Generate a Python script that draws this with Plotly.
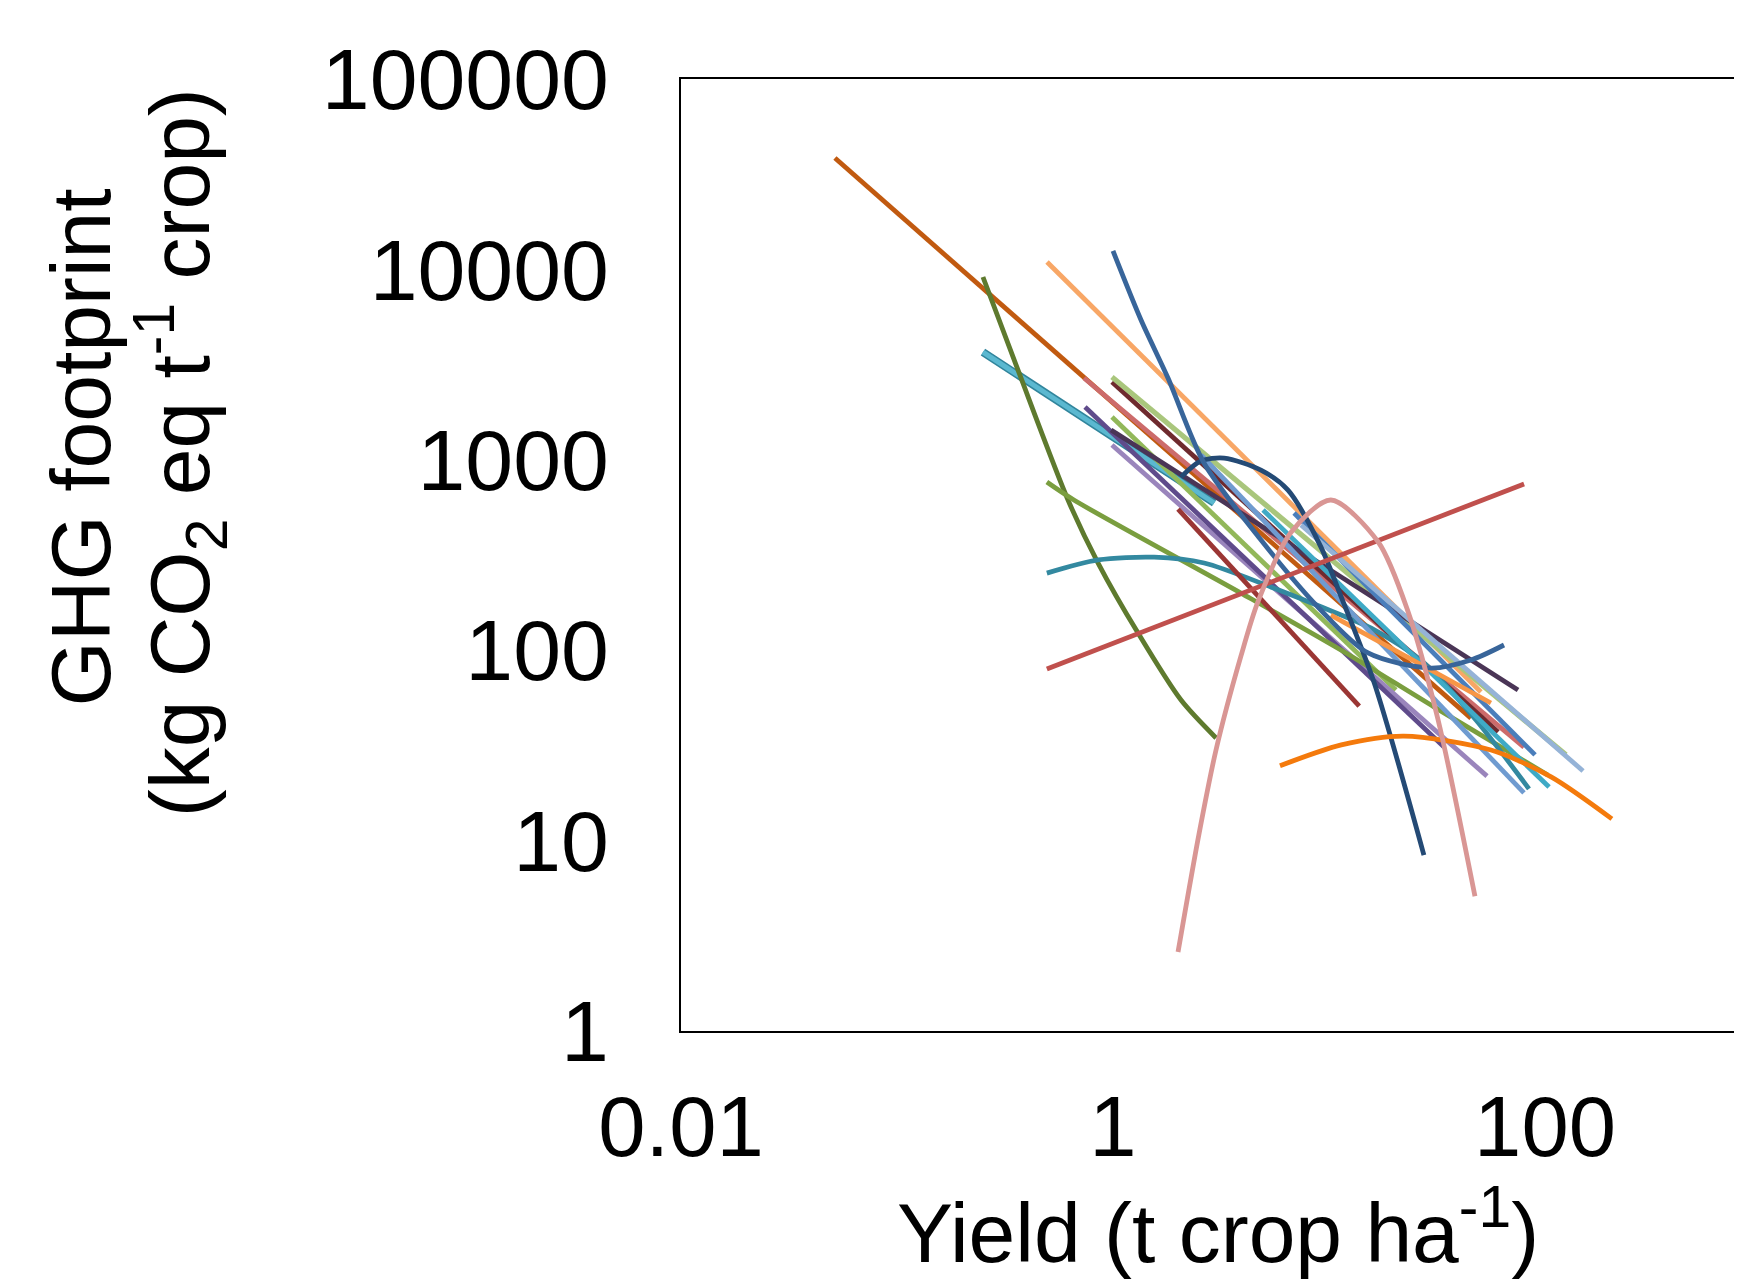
import plotly.graph_objects as go

# ---- data (yield t/ha, GHG footprint kg CO2eq/t) ----
dark_orange_x = [0.0516, 45.4]
dark_orange_y = [38450, 44]

olive_x = [0.25, 0.363, 0.619, 0.853, 1.306, 2.065, 3.0]
olive_y = [9120, 2965, 615, 287, 123, 54.7, 34.6]

lightblue_x = [0.25, 2.94]
lightblue_y = [3680, 593]

peach_x = [0.495, 50.5]
peach_y = [10940, 60.3]

blue_u_x = [1.0, 1.348, 1.797, 2.638, 4.845, 8.89, 15.16, 29.7, 45.4, 64.6]
blue_u_y = [12500, 5423, 2689, 962, 379, 168.6, 96.7, 80.6, 88.8, 106.5]

navy_x = [2.065, 2.55, 3.27, 4.84, 6.46, 9.18, 11.4, 16.2, 27.5]
navy_y = [813, 986, 1021, 883, 693, 348, 190, 67.3, 8.4]

red_x = [0.494, 80.0]
red_y = [79.6, 747]

pink_x = [2.0, 2.5, 3.0, 3.91, 4.69, 6.66, 10.2, 16.9, 23.2, 32.0, 47.4]
pink_y = [2.6, 10.8, 30, 93, 180, 415, 615, 370, 160, 43, 5.1]

orange_arch_x = [5.93, 11.4, 22.2, 56.2, 106.7, 204]
orange_arch_y = [24.7, 31.8, 35.4, 29.9, 21.6, 13.0]

teal_x = [0.494, 0.853, 1.55, 2.64, 5.38, 9.18, 16.2, 27.5, 47.9, 84.3]
teal_y = [254, 298, 308, 287, 215, 169, 128, 85.8, 43, 18.7]

green_x = [0.494, 0.659, 3.91, 11.4, 30.6, 103]
green_y = [764, 615, 199.6, 100, 50.4, 22.1]

salmon_x = [0.734, 79.9]
salmon_y = [2689, 31.0]

maroon_x = [0.989, 60.6]
maroon_y = [2563, 37.2]

lightgreen_x = [0.989, 125]
lightgreen_y = [2722, 28.2]

green2_x = [0.989, 20.4]
green2_y = [1678, 61.8]

lightpurple_x = [0.989, 53.9]
lightpurple_y = [1196, 21.8]

purple_x = [0.742, 34.1]
purple_y = [1894, 31.0]

darkpurple_x = [0.98, 75.0]
darkpurple_y = [1434, 61.8]

darkred_x = [2.0, 13.8]
darkred_y = [551, 50.9]

aqua_x = [4.95, 104.4]
aqua_y = [545, 19.1]

blue_x = [6.89, 89.9]
blue_y = [525.6, 28.2]

steelblue_x = [2.555, 79.9]
steelblue_y = [1060, 17.8]

bluegray_x = [7.42, 150]
bluegray_y = [454.6, 23.2]

orange_x = [10.2, 56.2]
orange_y = [153, 52.8]

x_ticks = [0.01, 1, 100]
x_ticktext = ["0.01", "1", "100"]
y_ticks = [1, 10, 100, 1000, 10000, 100000]
y_ticktext = ["1", "10", "100", "1000", "10000", "100000"]

FONT = "Liberation Sans, Arial, sans-serif"
W = 4.8

series = [
    (dark_orange_x, dark_orange_y, "#C15A10", W, "linear"),
    (lightblue_x, lightblue_y, "#31859C", 8, "linear"),
    (lightblue_x, lightblue_y, "#5BB8D0", 5, "linear"),
    (olive_x, olive_y, "#5E7A2E", W, "spline"),
    (peach_x, peach_y, "#F8A766", W, "linear"),
    (salmon_x, salmon_y, "#CC6B6B", W, "linear"),
    (maroon_x, maroon_y, "#6E2A2E", W, "linear"),
    (lightgreen_x, lightgreen_y, "#A9C67C", 5.2, "linear"),
    (green2_x, green2_y, "#92B85A", W, "linear"),
    (lightpurple_x, lightpurple_y, "#9A85BC", W, "linear"),
    (purple_x, purple_y, "#5F4B8B", W, "linear"),
    (darkpurple_x, darkpurple_y, "#4A3556", W, "linear"),
    (green_x, green_y, "#7A9E3F", W, "spline"),
    (teal_x, teal_y, "#3389A0", W, "spline"),
    (darkred_x, darkred_y, "#9B3634", W, "linear"),
    (aqua_x, aqua_y, "#3FAAC6", W, "linear"),
    (blue_x, blue_y, "#4A7EBB", W, "linear"),
    (steelblue_x, steelblue_y, "#6F9BD0", W, "linear"),
    (bluegray_x, bluegray_y, "#95B3D7", W, "linear"),
    (orange_x, orange_y, "#F79646", W, "linear"),
    (navy_x, navy_y, "#244A75", W, "spline"),
    (blue_u_x, blue_u_y, "#38659A", W, "spline"),
    (red_x, red_y, "#C0504D", W, "linear"),
    (orange_arch_x, orange_arch_y, "#F47A0C", W, "spline"),
    (pink_x, pink_y, "#D99694", W, "spline"),
]

fig = go.Figure()
for xs, ys, col, w, shape in series:
    fig.add_trace(go.Scatter(
        x=xs, y=ys, mode="lines",
        line=dict(color=col, width=w, shape=shape, smoothing=0.8),
        showlegend=False, hoverinfo="skip"))

fig.update_layout(
    width=1734, height=1271,
    margin=dict(l=673, r=0, t=71, b=248, pad=0),
    paper_bgcolor="white", plot_bgcolor="white",
    font=dict(family=FONT, color="black", size=84),
    xaxis=dict(type="log", range=[-2, 2.912], tickvals=x_ticks, ticktext=x_ticktext,
               showgrid=False, zeroline=False, showline=True, mirror=True,
               linecolor="black", linewidth=2, ticks="",
               tickfont=dict(family=FONT, size=85, color="black"),
               ticklabelstandoff=21),
    yaxis=dict(type="log", range=[0, 5], tickvals=y_ticks, ticktext=y_ticktext,
               showgrid=False, zeroline=False, showline=True, mirror=False,
               linecolor="black", linewidth=2, ticks="",
               tickfont=dict(family=FONT, size=86, color="black"),
               ticklabelstandoff=53),
    annotations=[
        dict(text="Yield (t crop ha<sup>-1</sup>)", xref="paper", yref="paper",
             x=0.506, y=-0.2054, xanchor="center", yanchor="middle",
             showarrow=False, font=dict(family=FONT, size=84, color="black")),
        dict(text="GHG footprint",
             xref="paper", yref="paper", x=-0.5654, y=0.613,
             xanchor="center", yanchor="middle", textangle=-90,
             showarrow=False, font=dict(family=FONT, size=84, color="black")),
        dict(text="(kg CO<sub>2</sub> eq t<sup>-1</sup> crop)",
             xref="paper", yref="paper", x=-0.472, y=0.607,
             xanchor="center", yanchor="middle", textangle=-90,
             showarrow=False, font=dict(family=FONT, size=84, color="black")),
    ],
)

fig.write_html("out.html")
